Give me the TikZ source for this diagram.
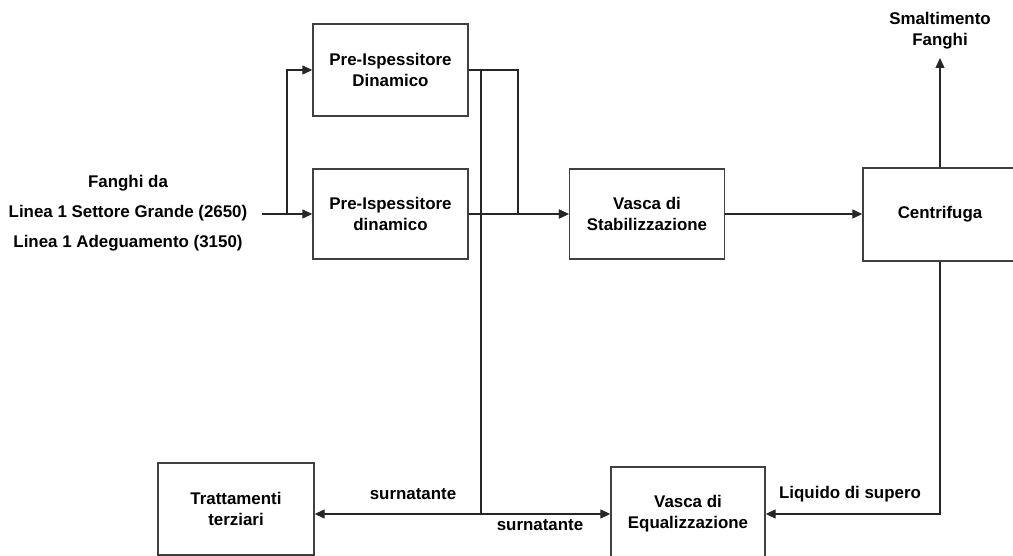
\documentclass[tikz,border=0pt]{standalone}
\usepackage{fontspec}
\setmainfont{Liberation Sans}
\usetikzlibrary{arrows.meta}
\begin{document}
\begin{tikzpicture}[x=1pt,y=-1pt,
  font=\fontsize{16.9}{21}\selectfont\bfseries,
  box/.style={draw=black!75,line width=1.4pt,minimum width=155pt,minimum height=92pt,align=center,inner sep=2pt},
  lbl/.style={align=center,inner sep=0pt},
  conn/.style={draw=black!85,line width=1.3pt},
  arr/.style={conn,-{Triangle[length=10pt,width=9pt]}}]
\useasboundingbox (0,0) rectangle (1013,556);
\node[box] (preA) at (390.5,70) {Pre-Ispessitore\\Dinamico};
\node[box,minimum height=90pt] (preB) at (390.5,214) {Pre-Ispessitore\\dinamico};
\node[box,minimum height=90pt] (stab) at (647,214) {Vasca di\\Stabilizzazione};
\node[box,minimum width=154pt,minimum height=93pt] (centr) at (940,214.5) {Centrifuga};
\node[box,minimum width=156pt,minimum height=92pt] (tratt) at (236,509) {Trattamenti\\terziari};
\node[box,minimum width=154pt,minimum height=94pt] (eq) at (688,514) {Vasca di\\Equalizzazione};
\node[lbl] (l1) at (128,183) {Fanghi da};
\node[lbl] (l2) at (128,213) {Linea 1 Settore Grande (2650)};
\node[lbl] (l3) at (128,243) {Linea 1 Adeguamento (3150)};
\node[lbl] (smalt) at (940,31) {Smaltimento\\Fanghi};
\node[lbl] (s1) at (413,494) {surnatante};
\node[lbl] (s2) at (540,525) {surnatante};
\node[lbl] (liq) at (850,494) {Liquido di supero};
\coordinate (in) at (262,214);
\coordinate (br) at (287,214);
\coordinate (ja) at (518,70);
\coordinate (jv) at (481,70);
\coordinate (jb) at (481,514);
\coordinate (up) at (940,58);
\draw[arr] (in) -- (in -| preB.west);
\draw[arr] (br) |- (preA.west);
\draw[arr] (preB.east) -- (stab.west);
\draw[arr] (preA.east) -- (ja) |- (stab.west);
\draw[conn] (preA.east -| jv) -- (jb);
\draw[arr] (jb) -- (jb -| tratt.east);
\draw[arr] (jb) -- (jb -| eq.west);
\draw[arr] (stab.east) -- (stab.east -| centr.west);
\draw[arr] (centr.north) -- (up);
\draw[arr] (centr.south) |- (eq.east);
\end{tikzpicture}
\end{document}
